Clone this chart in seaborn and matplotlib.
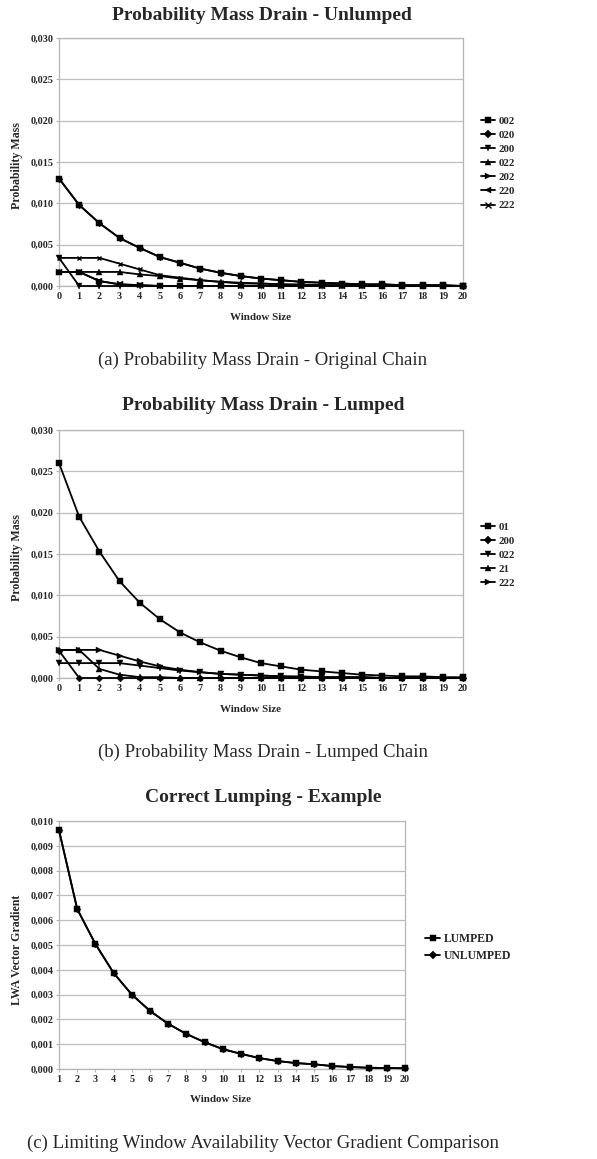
import matplotlib
matplotlib.use('Agg')
import matplotlib.pyplot as plt
import seaborn as sns
import pandas as pd
from matplotlib.ticker import FuncFormatter, MultipleLocator

# --- data ---
window_a = list(range(0, 21))
p002 = [0.0130, 0.0098, 0.0076, 0.0058, 0.0046, 0.0035, 0.0028, 0.0021, 0.0016, 0.0012, 0.0009,
        0.0007, 0.0005, 0.0004, 0.0003, 0.0002, 0.0002, 0.0001, 0.0001, 0.0001, 0.0000]
p020 = [0.0130, 0.0098, 0.0076, 0.0058, 0.0046, 0.0035, 0.0028, 0.0021, 0.0016, 0.0012, 0.0009,
        0.0007, 0.0005, 0.0004, 0.0003, 0.0002, 0.0002, 0.0001, 0.0001, 0.0001, 0.0000]
p200 = [0.0034, 0.0000, 0.0000, 0.0000, 0.0000, 0.0000, 0.0000, 0.0000, 0.0000, 0.0000, 0.0000,
        0.0000, 0.0000, 0.0000, 0.0000, 0.0000, 0.0000, 0.0000, 0.0000, 0.0000, 0.0000]
p022 = [0.0017, 0.0017, 0.0017, 0.0017, 0.0014, 0.0012, 0.0009, 0.0007, 0.0005, 0.0004, 0.0003,
        0.0002, 0.0001, 0.0001, 0.0001, 0.0001, 0.0000, 0.0000, 0.0000, 0.0000, 0.0000]
p202 = [0.0017, 0.0017, 0.0006, 0.0002, 0.0001, 0.0000, 0.0000, 0.0000, 0.0000, 0.0000, 0.0000,
        0.0000, 0.0000, 0.0000, 0.0000, 0.0000, 0.0000, 0.0000, 0.0000, 0.0000, 0.0000]
p220 = [0.0017, 0.0017, 0.0006, 0.0002, 0.0001, 0.0000, 0.0000, 0.0000, 0.0000, 0.0000, 0.0000,
        0.0000, 0.0000, 0.0000, 0.0000, 0.0000, 0.0000, 0.0000, 0.0000, 0.0000, 0.0000]
p222 = [0.0034, 0.0034, 0.0034, 0.0027, 0.0020, 0.0013, 0.0010, 0.0007, 0.0005, 0.0003, 0.0003,
        0.0002, 0.0002, 0.0001, 0.0001, 0.0001, 0.0000, 0.0000, 0.0000, 0.0000, 0.0000]

l01 = [0.0260, 0.0195, 0.0153, 0.0117, 0.0091, 0.0071, 0.0055, 0.0043, 0.0033, 0.0025, 0.0018,
       0.0014, 0.0010, 0.0008, 0.0006, 0.0004, 0.0003, 0.0002, 0.0002, 0.0001, 0.0001]
l200 = [0.0033, 0.0000, 0.0000, 0.0000, 0.0000, 0.0000, 0.0000, 0.0000, 0.0000, 0.0000, 0.0000,
        0.0000, 0.0000, 0.0000, 0.0000, 0.0000, 0.0000, 0.0000, 0.0000, 0.0000, 0.0000]
l022 = [0.0018, 0.0018, 0.0018, 0.0018, 0.0015, 0.0012, 0.0009, 0.0007, 0.0005, 0.0004, 0.0003,
        0.0002, 0.0001, 0.0001, 0.0001, 0.0001, 0.0000, 0.0000, 0.0000, 0.0000, 0.0000]
l21 = [0.0034, 0.0034, 0.0011, 0.0004, 0.0001, 0.0001, 0.0000, 0.0000, 0.0000, 0.0000, 0.0000,
       0.0000, 0.0000, 0.0000, 0.0000, 0.0000, 0.0000, 0.0000, 0.0000, 0.0000, 0.0000]
l222 = [0.0034, 0.0034, 0.0034, 0.0027, 0.0020, 0.0014, 0.0010, 0.0007, 0.0005, 0.0004, 0.0003,
        0.0002, 0.0002, 0.0001, 0.0001, 0.0001, 0.0000, 0.0000, 0.0000, 0.0000, 0.0000]

window_c = list(range(1, 21))
grad_lumped = [0.00963, 0.00645, 0.00504, 0.00387, 0.00300, 0.00234, 0.00182, 0.00141, 0.00108, 0.00080,
               0.00061, 0.00044, 0.00032, 0.00024, 0.00019, 0.00012, 0.00008, 0.00005, 0.00004, 0.00003]
grad_unlumped = [0.00963, 0.00645, 0.00504, 0.00387, 0.00300, 0.00234, 0.00182, 0.00141, 0.00108, 0.00080,
                 0.00061, 0.00044, 0.00032, 0.00024, 0.00019, 0.00012, 0.00008, 0.00005, 0.00004, 0.00003]

unlumped = {'002': (p002, 's'), '020': (p020, 'D'), '200': (p200, 'v'), '022': (p022, '^'),
            '202': (p202, '>'), '220': (p220, '<'), '222': (p222, 'x')}
lumped = {'01': (l01, 's'), '200': (l200, 'D'), '022': (l022, 'v'), '21': (l21, '^'), '222': (l222, '>')}
grads = {'LUMPED': (grad_lumped, 's'), 'UNLUMPED': (grad_unlumped, 'D')}

sns.set_theme(style='white')
plt.rcParams['font.family'] = ['Liberation Serif', 'DejaVu Serif']

W, H = 597, 1159
fig = plt.figure(figsize=(W / 100, H / 100), dpi=100)

def box(l, t, r, b):
    return [l / W, 1 - b / H, (r - l) / W, (b - t) / H]

def ftext(x, y, s, **kw):
    fig.text(x / W, 1 - y / H, s, ha='center', va='center', **kw)

comma = FuncFormatter(lambda v, p: f'{v:.3f}'.replace('.', ','))

def panel(ax, xs, series, xlim, ymax, ystep, leg_xy, leg_gap, leg_size):
    n = len(series)
    for i, (name, (vals, mk)) in enumerate(series.items()):
        df = pd.DataFrame({'w': xs, 'v': vals})
        ms = 4.5 if mk in ('s', 'v', '^', '>', '<') else 3.5
        sns.lineplot(data=df, x='w', y='v', ax=ax, color='black', lw=1.3, marker=mk,
                     markersize=ms, markeredgewidth=1.0 if mk == 'x' else 0.3,
                     markeredgecolor='black', label=name, zorder=10 + n - i, clip_on=False)
    ax.set_xlim(*xlim)
    ax.set_ylim(0, ymax)
    ax.xaxis.set_major_locator(MultipleLocator(1))
    ax.yaxis.set_major_locator(MultipleLocator(ystep))
    ax.yaxis.set_major_formatter(comma)
    ax.grid(axis='y', color='#bdbdbd', lw=0.9)
    ax.set_axisbelow(True)
    for sp in ax.spines.values():
        sp.set_color('#b5b5b5')
        sp.set_linewidth(0.9)
    ax.tick_params(axis='both', labelsize=7.3, pad=1.5, length=2.5, color='#b5b5b5',
                   bottom=True, left=True, width=0.8)
    for lab in ax.get_xticklabels() + ax.get_yticklabels():
        lab.set_fontweight('bold')
    ax.set_xlabel('')
    ax.set_ylabel('')
    ax.legend(loc='upper left', bbox_to_anchor=(leg_xy[0] / W, 1 - leg_xy[1] / H),
              bbox_transform=fig.transFigure, frameon=False, handlelength=1.3,
              handletextpad=0.3, labelspacing=leg_gap, borderpad=0, borderaxespad=0,
              markerscale=1.1, prop={'weight': 'bold', 'size': leg_size})

# (a)
ax1 = fig.add_axes(box(59, 38, 463, 286))
panel(ax1, window_a, unlumped, (0, 20), 0.030, 0.005, (481, 116), 0.42, 7.8)
ftext(262, 15, 'Probability Mass Drain - Unlumped', fontsize=14, fontweight='bold')
ftext(17, 166, 'Probability Mass', fontsize=8.6, fontweight='bold', rotation=90)
ftext(261, 317, 'Window Size', fontsize=7.9, fontweight='bold')
ftext(263, 360, '(a) Probability Mass Drain - Original Chain', fontsize=13.5)

# (b)
ax2 = fig.add_axes(box(59, 430, 463, 678))
panel(ax2, window_a, lumped, (0, 20), 0.030, 0.005, (481, 522), 0.42, 7.8)
ftext(263, 405, 'Probability Mass Drain - Lumped', fontsize=14, fontweight='bold')
ftext(17, 558, 'Probability Mass', fontsize=8.6, fontweight='bold', rotation=90)
ftext(251, 709, 'Window Size', fontsize=7.9, fontweight='bold')
ftext(263, 752, '(b) Probability Mass Drain - Lumped Chain', fontsize=13.5)

# (c)
ax3 = fig.add_axes(box(59, 821, 405, 1069))
panel(ax3, window_c, grads, (1, 20), 0.010, 0.001, (425, 933), 0.45, 8.5)
ftext(263, 797, 'Correct Lumping - Example', fontsize=14, fontweight='bold')
ftext(17, 950, 'LWA Vector Gradient', fontsize=8.6, fontweight='bold', rotation=90)
ftext(221, 1100, 'Window Size', fontsize=7.9, fontweight='bold')
ftext(263, 1143, '(c) Limiting Window Availability Vector Gradient Comparison', fontsize=13.5)

fig.savefig('out.png', dpi=100, facecolor='white')
